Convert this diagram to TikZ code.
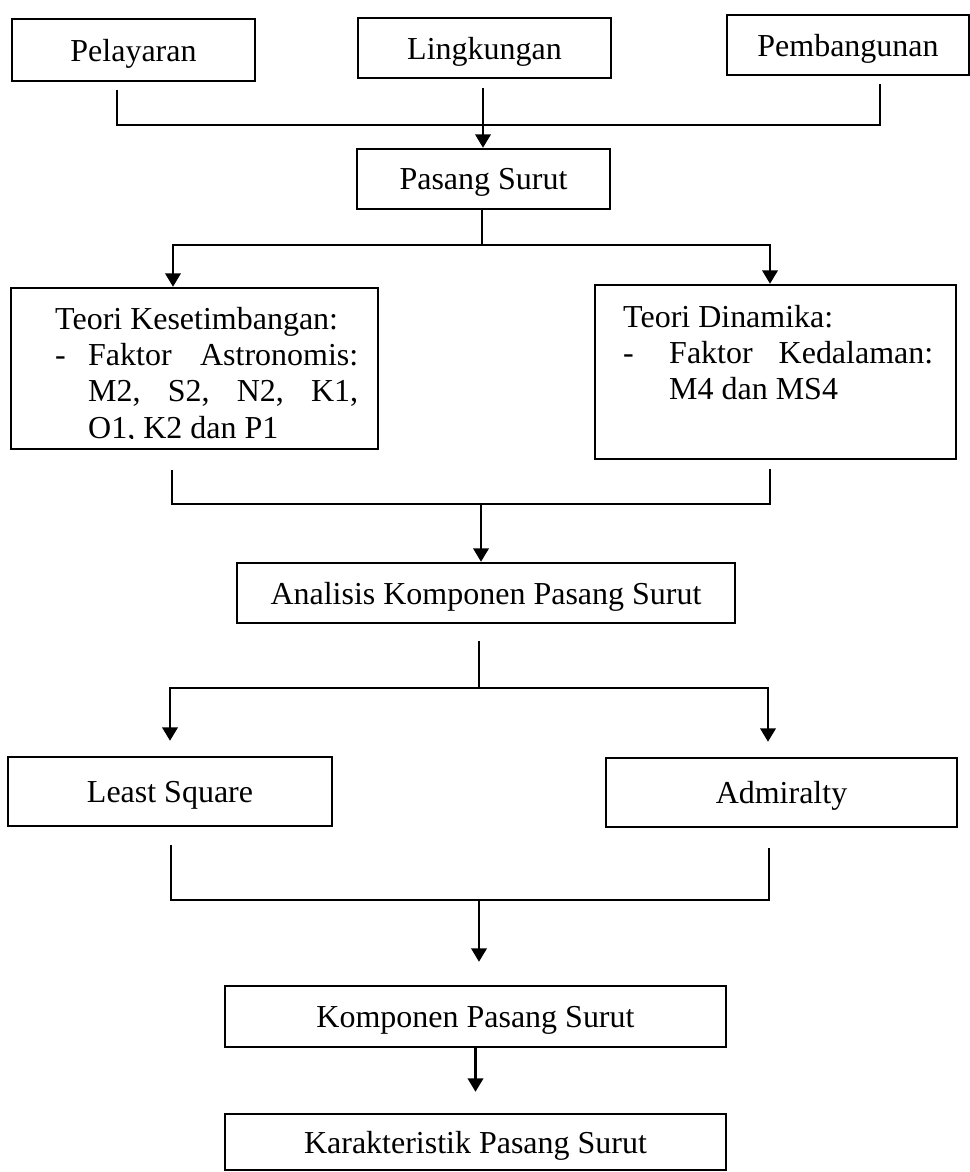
\documentclass[tikz,border=0pt]{standalone}
\usepackage{fontspec}
\setmainfont{Liberation Serif}
\usepackage{tikz}
\usetikzlibrary{arrows.meta,calc}

\tikzset{
    stage/.style={draw, line width=1.4pt, inner sep=0pt, minimum height=1.2cm, text depth=0pt},
    arr/.style={-{Triangle[length=0.27cm,width=0.31cm]}},
    theory/.style={anchor=base west, inner sep=0pt, text width=#1, align=justify},
}
\newcommand{\itemtext}[2]{\parbox[t]{#1}{\rightskip=0pt\parfillskip=0pt plus 1fil\relax #2}}

\begin{document}
\begin{tikzpicture}[line width=1.4pt, font=\fontsize{18.2}{20.7}\selectfont]
    \useasboundingbox (0,0) rectangle (19.4,-23.44);

    % top row
    \node [stage, minimum width=4.86cm, minimum height=1.24cm] (pel) at (2.67,-1.0) {Pelayaran};
    \node [stage, minimum width=5.06cm] (ling) at (9.69,-0.96) {Lingkungan};
    \node [stage, minimum width=4.84cm] (pemb) at (16.96,-0.9) {Pembangunan};

    \node [stage, minimum width=5.06cm] (pasang) at (9.67,-3.58) {Pasang Surut};

    % theory boxes
    \node [stage, minimum width=7.34cm, minimum height=3.22cm] (kes) at (3.89,-7.37) {};
    \node [stage, minimum width=7.22cm, minimum height=3.48cm] (din) at (15.51,-7.44) {};

    \begin{scope}
        \clip (kes.north west) rectangle ($(kes.south east)+(0,0.23)$);
        \node [theory=6.06cm] (kesText) at (1.08,-6.58)
            {\noindent Teori Kesetimbangan:\par
             \noindent\makebox[0.66cm][l]{-}\itemtext{5.4cm}{Faktor Astronomis:\linebreak M2, S2, N2, K1,\linebreak O1, K2 dan P1}};
    \end{scope}

    \node [theory=6.2cm] (dinText) at (12.44,-6.54)
        {\noindent Teori Dinamika:\par
         \noindent\makebox[0.92cm][l]{-}\itemtext{5.28cm}{Faktor Kedalaman:\linebreak M4 dan MS4}};

    \node [stage, minimum width=9.96cm] (analisis) at (9.72,-11.86) {Analisis Komponen Pasang Surut};

    % methods
    \node [stage, minimum width=6.48cm, minimum height=1.38cm] (least) at (3.4,-15.83) {Least Square};
    \node [stage, minimum width=7.02cm, minimum height=1.38cm] (adm) at (15.63,-15.85) {Admiralty};

    \node [stage, minimum width=10.02cm, minimum height=1.22cm] (komp) at (9.51,-20.33) {Komponen Pasang Surut};
    \node [stage, minimum width=10.02cm, minimum height=1.12cm] (kar) at (9.51,-22.84) {Karakteristik Pasang Surut};

    % connectors
    \coordinate (pelEnd) at (2.34,-1.8);
    \coordinate (pembEnd) at (17.6,-1.68);
    \coordinate (topJoin) at (9.66,-2.5);
    \coordinate (lingEnd) at (9.66,-1.76);
    \draw (pelEnd) |- (topJoin) -| (pembEnd);
    \draw [arr] (lingEnd) -- (lingEnd |- pasang.north);

    \coordinate (split1) at (9.64,-4.9);
    \draw (split1 |- pasang.south) -- (split1);
    \draw [arr] (split1) -| ($(kes.north)+(-0.43,0)$);
    \draw [arr] (split1) -| ($(din.north)+(-0.11,0)$);

    \coordinate (kesEnd) at (3.44,-9.4);
    \coordinate (dinEnd) at (15.4,-9.38);
    \coordinate (midJoin) at (9.62,-10.08);
    \draw (kesEnd) |- (midJoin) -| (dinEnd);
    \draw [arr] (midJoin) -- (midJoin |- analisis.north);

    \coordinate (anaOut) at (9.58,-12.82);
    \coordinate (split2) at (9.58,-13.76);
    \draw (anaOut) -- (split2);
    \draw [arr, shorten >=0.3cm] (split2) -| (least.north);
    \draw [arr, shorten >=0.3cm] (split2) -| ($(adm.north)+(-0.27,0)$);

    \coordinate (leastEnd) at (3.42,-16.9);
    \coordinate (admEnd) at (15.38,-16.96);
    \coordinate (lowJoin) at (9.58,-18.0);
    \draw (leastEnd) |- (lowJoin) -| (admEnd);
    \draw [arr, shorten >=0.46cm] (lowJoin) -- (lowJoin |- komp.north);

    \draw [arr, shorten >=0.42cm] (komp.south) -- (kar.north);
\end{tikzpicture}
\end{document}
